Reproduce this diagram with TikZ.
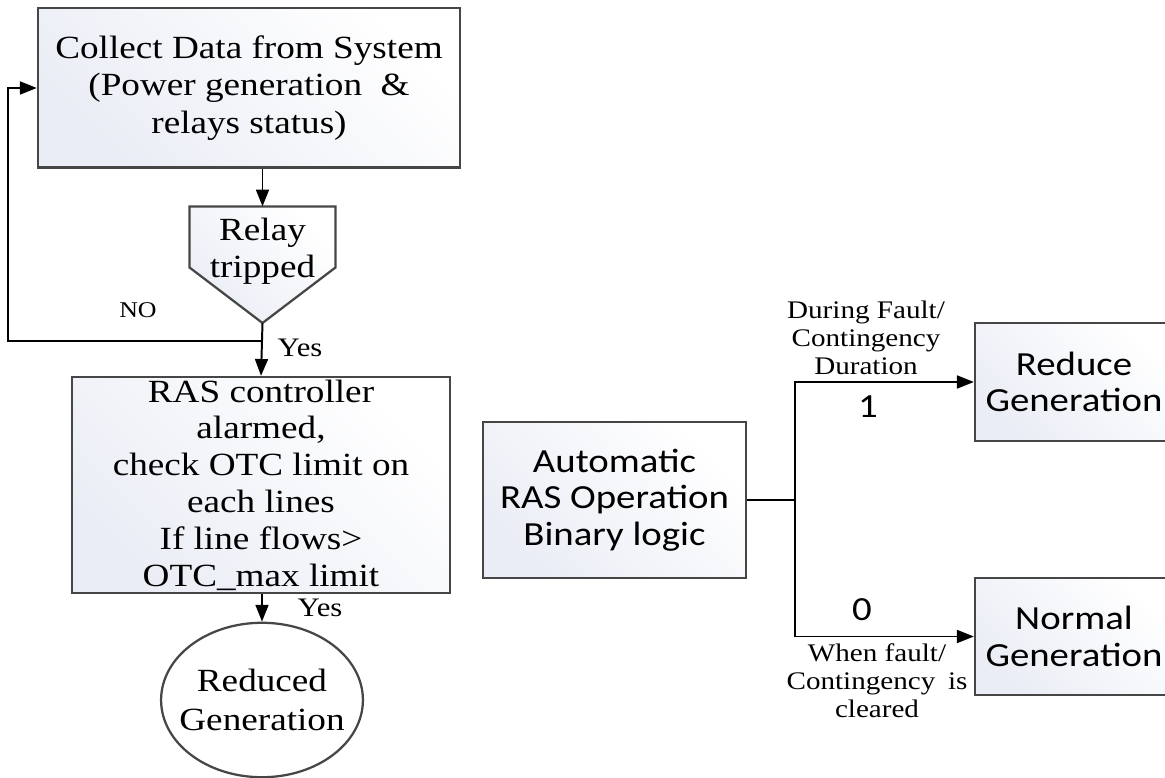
\documentclass[tikz,border=0pt]{standalone}
\usepackage{fontspec}
\setmainfont{Liberation Serif}[FakeStretch=1.15]
\newfontfamily\calibri{Carlito}[FakeStretch=1.15]
\usetikzlibrary{shapes.geometric, arrows.meta, calc}
\definecolor{boxTint}{RGB}{234,237,245}
\definecolor{boxLine}{RGB}{70,70,70}
\tikzstyle{normalBox} = [shape=rectangle, draw=boxLine, line width=0.8pt,
	align=center, inner sep=0pt, top color=boxTint, bottom color=white, shading angle=135]
\tikzstyle{SerifBox} = [normalBox, font=\fontsize{11.5}{13.2}\selectfont]
\tikzstyle{CalBox} = [normalBox, font=\calibri\fontsize{12}{13}\selectfont]
\tikzstyle{smallText} = [align=center, inner sep=0pt, font=\fontsize{9}{10}\selectfont]
\tikzstyle{flowLine} = [draw=black, line width=0.7pt]
\tikzstyle{flowArrow} = [flowLine, -{Triangle[length=6pt,width=4.6pt]}]

\begin{document}
\begin{tikzpicture}[x=0.0125cm, y=-0.0125cm]
  \clip (0,0) rectangle (1165,778);

  % left flow chart
  \node (COL) [SerifBox, minimum width=5.275cm, minimum height=1.99cm] at (249,88)
    {Collect Data from System\\(Power generation \ \&\\relays status)};
  \node (REL) [inner sep=0pt, minimum width=1.8125cm, minimum height=1.1cm] at (262.5,251) {};
  \coordinate (TIP) at (262.5,323);
  \draw [draw=boxLine, line width=0.8pt, top color=boxTint, bottom color=white, shading angle=135]
    (REL.north west) -- (REL.north east) -- ($(REL.north east)+(0,61)$)
    -- (TIP) -- ($(REL.north west)+(0,61)$) -- cycle;
  \node (RELT) [align=center, inner sep=0pt, font=\fontsize{11.5}{13.2}\selectfont]
    at (REL) {Relay\\tripped};
  \node (RAS) [SerifBox, minimum width=4.725cm, minimum height=2.7cm,
    font=\fontsize{11.5}{13.1}\selectfont] at (261,485)
    {RAS controller\\alarmed,\\check OTC limit on\\each lines\\If line flows>\\OTC\_max limit};
  \node (RED) [shape=ellipse, draw=boxLine, line width=0.8pt, fill=white, align=center,
    inner xsep=-4pt, inner ysep=2pt, minimum width=2.5cm, minimum height=1.93cm,
    font=\fontsize{11.5}{13.6}\selectfont] at (262,700) {Reduced\\Generation};

  \coordinate (LOOP) at (262.5,341);
  \coordinate (BACK) at (8,341);
  \draw [flowArrow] (COL.south -| REL.north) -- (REL.north);
  \draw [flowArrow] (TIP) -- (RAS.north);
  \draw [flowArrow] (LOOP) -- (BACK) |- (COL.west);
  \draw [flowArrow] (RAS.south -| RED.north) -- (RED.north);

  \node (NO) [smallText, font=\fontsize{8}{9}\selectfont] at (138,310) {NO};
  \node (YES1) [smallText, font=\fontsize{9.5}{10}\selectfont] at (300,348) {Yes};
  \node (YES2) [smallText, font=\fontsize{9.5}{10}\selectfont] at (320,608) {Yes};

  % right binary logic
  \node (AUT) [CalBox, minimum width=3.29cm, minimum height=1.95cm] at (614.5,500)
    {Automatic\\RAS Operation\\Binary logic};
  \node (RGN) [CalBox, minimum width=2.475cm, minimum height=1.475cm] at (1074,382)
    {Reduce\\Generation};
  \node (NGN) [CalBox, minimum width=2.475cm, minimum height=1.4625cm] at (1074,636.5)
    {Normal\\Generation};

  \coordinate (JNC) at (795,500);
  \draw [flowLine] (AUT.east) -- (JNC);
  \draw [flowArrow] (JNC) |- (RGN.west);
  \draw [flowArrow] (JNC) |- (NGN.west);

  \node (DUR) [smallText] at (866,338) {During Fault/\\Contingency\\Duration};
  \node (ONE) [inner sep=0pt, font=\calibri\fontsize{12}{13}\selectfont] at (868,407) {1};
  \node (ZERO) [inner sep=0pt, font=\calibri\fontsize{12}{13}\selectfont] at (862,610) {0};
  \node (CLR) [smallText] at (877,681) {When fault/\\Contingency\enspace is\\cleared};

\end{tikzpicture}
\end{document}
